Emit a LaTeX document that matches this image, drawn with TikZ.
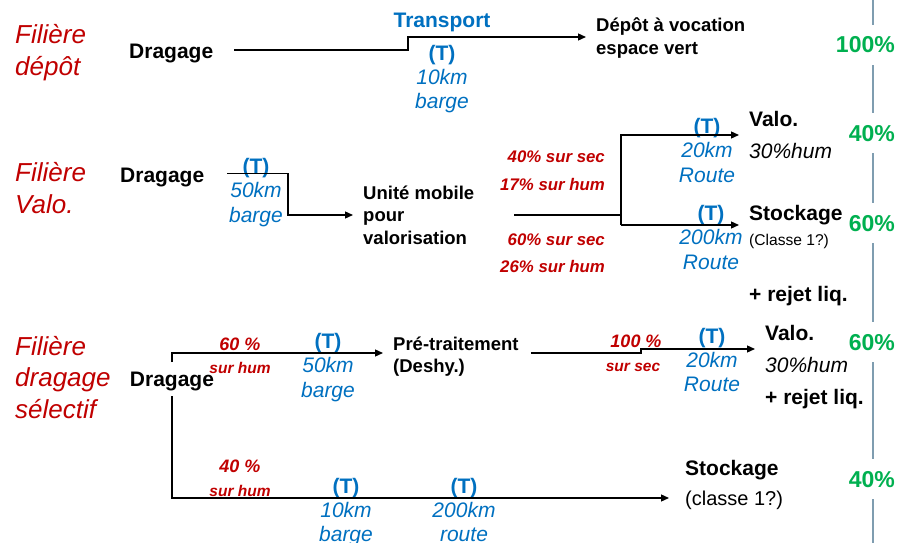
\documentclass[tikz,border=0pt]{standalone}
\usepackage{fontspec}
\setmainfont{Liberation Sans}
\usetikzlibrary{arrows.meta}
\definecolor{rouge}{HTML}{C00000}
\definecolor{bleu}{HTML}{0070C0}
\definecolor{vert}{HTML}{00B050}
\definecolor{gris}{HTML}{7F9DB0}
\newcommand{\taille}[2]{\fontsize{#1}{#2}\selectfont}
\tikzset{
    every node/.style={inner sep=2pt},
    filiere/.style={        % nom de la filiere
        text=rouge,
        font=\taille{26}{31.5}\itshape,
        align=left,
        anchor=base west
    },
    etape/.style={          % dragage, valo, stockage
        font=\taille{21}{24}\bfseries,
        anchor=base west
    },
    etapeb/.style={         % textes gras plus petits
        font=\taille{18.5}{22.5}\bfseries,
        align=left,
        anchor=base west
    },
    note/.style={           % textes non gras
        font=\taille{21}{24},
        anchor=base west
    },
    titre/.style={
        text=bleu,
        font=\taille{21}{24}\bfseries,
        anchor=base
    },
    troncon/.style={        % (T) + distance + mode
        text=bleu,
        font=\taille{21}{24.5}\itshape,
        align=center,
        anchor=base
    },
    taux/.style={           % pourcentages rouges
        text=rouge,
        font=\taille{16.8}{27.3}\bfseries\itshape,
        align=right,
        anchor=base east
    },
    part/.style={           % pourcentages verts
        text=vert,
        font=\taille{23}{24}\bfseries,
        fill=white,
        inner ysep=11.5pt,
        anchor=base east
    },
    separateur/.style={draw=gris, line width=1.5pt},
    fleche/.style={
        draw,
        line width=1.3pt,
        shorten >=8pt,
        -{Triangle[length=8pt, width=7pt]}
    },
    trait/.style={draw, line width=1.3pt}
}
\begin{document}
\begin{tikzpicture}[x=1pt, y=-1pt]
    \useasboundingbox (0,0) rectangle (900,543);
    \coordinate (haut) at (873,0);
    \coordinate (bas) at (873,543);
    \draw[separateur] (haut) -- (bas);

    % filiere depot (les noeuds a plusieurs lignes sont places sur la derniere ligne)
    \node[filiere] (fil1) at (13,75) {Filière\\dépôt};
    \node[etape] (drag1) at (127,58.3) {Dragage};
    \node[titre] (transp1) at (442,28) {Transport};
    \node[troncon] (t1) at (442,109) {{\upshape\bfseries (T)}\\10km\\barge};
    \node[etapeb] (depot) at (594,54.2) {Dépôt à vocation\\espace vert};
    \node[part] (p100) at (897,53) {100\%};
    \coordinate (c1a) at (408,50);
    \coordinate (c1b) at (408,37);
    \draw[fleche, shorten <=19pt] (drag1.east |- c1a) -- (c1a) -- (c1b) -- (depot.west |- c1b);

    % filiere valo
    \node[filiere] (fil2) at (13,213.2) {Filière\\Valo.};
    \node[etape] (drag2) at (118,182.3) {Dragage};
    \node[troncon] (t2) at (256,222) {{\upshape\bfseries (T)}\\50km\\barge};
    \node[etapeb] (unite) at (361,244) {Unité mobile\\pour\\valorisation};
    \node[taux] (taux2a) at (607,190) {40\% sur sec\\17\% sur hum};
    \node[taux] (taux2b) at (607,272.3) {60\% sur sec\\26\% sur hum};
    \node[troncon] (t2h) at (707,182) {{\upshape\bfseries (T)}\\20km\\Route};
    \node[troncon] (t2b) at (711,269) {{\upshape\bfseries (T)}\\200km\\Route};
    \node[etape] (valo2) at (747,126.7) {Valo.};
    \node[note, font=\taille{21}{24}\itshape] (hum2) at (747,158) {30\%hum};
    \node[etape] (stock2) at (747,220.7) {Stockage};
    \node[note, font=\taille{15.6}{18}] (classe2) at (747,245.7) {(Classe 1?)};
    \node[etape] (rejet2) at (747,301.7) {+ rejet liq.};
    \node[part] (p40a) at (897,141) {40\%};
    \node[part] (p60a) at (897,231) {60\%};
    \coordinate (c2a) at (288,173.5);
    \coordinate (c2b) at (288,215);
    \coordinate (c2c) at (621,215);
    \coordinate (c2d) at (621,135);
    \coordinate (c2e) at (621,225);
    \draw[fleche, shorten <=21pt] (drag2.east |- c2a) -- (c2a) -- (c2b) -- (unite.west |- c2b);
    \draw[trait, shorten <=38pt] (unite.east |- c2c) -- (c2c);
    \draw[fleche] (c2e) -- (c2d) -- (valo2.west |- c2d);
    \draw[fleche] (c2e) -- (stock2.west |- c2e);

    % filiere dragage selectif
    \node[filiere] (fil3) at (13,418) {Filière\\dragage\\sélectif};
    \node[etape, anchor=base] (drag3) at (172,386.7) {Dragage};
    \node[taux, anchor=base, font=\taille{18}{20}\bfseries\itshape] (taux3a) at (240,350) {60 \%};
    \node[taux, anchor=base, font=\taille{15.5}{18}\bfseries\itshape] (sur3a) at (240,373) {sur hum};
    \node[troncon] (t3a) at (328,397) {{\upshape\bfseries (T)}\\50km\\barge};
    \node[etapeb, font=\taille{18.5}{22}\bfseries] (pretrait) at (391,372) {Pré-traitement\\(Deshy.)};
    \node[taux, anchor=base, font=\taille{18}{20}\bfseries\itshape] (taux3b) at (636,347.7) {100 \%};
    \node[taux, anchor=base, font=\taille{15.5}{18}\bfseries\itshape] (sur3b) at (633,371.7) {sur sec};
    \node[troncon, font=\taille{21}{24.2}\itshape] (t3b) at (712,391.7) {{\upshape\bfseries (T)}\\20km\\Route};
    \node[etape] (valo3) at (763,340.7) {Valo.};
    \node[note, font=\taille{21}{24}\itshape] (hum3) at (763,372.7) {30\%hum};
    \node[etape] (rejet3) at (763,404) {+ rejet liq.};
    \node[part] (p60b) at (897,350) {60\%};
    \node[taux, anchor=base, font=\taille{18}{20}\bfseries\itshape] (taux3c) at (240,472.7) {40 \%};
    \node[taux, anchor=base, font=\taille{15.5}{18}\bfseries\itshape] (sur3c) at (240,496.7) {sur hum};
    \node[troncon, font=\taille{21}{24.2}\itshape] (t3c) at (346,541.7) {{\upshape\bfseries (T)}\\10km\\barge};
    \node[troncon, font=\taille{21}{24.2}\itshape] (t3d) at (464,541.7) {{\upshape\bfseries (T)}\\200km\\route};
    \node[etape] (stock3) at (683,475) {Stockage};
    \node[note, font=\taille{20}{24}] (classe3) at (683,505) {(classe 1?)};
    \node[part] (p40b) at (897,487) {40\%};
    \coordinate (fourche) at (172,353);
    \coordinate (coin3) at (172,498);
    \coordinate (c3a) at (641,353);
    \coordinate (c3b) at (641,349);
    \draw[fleche, shorten <=8pt] (drag3.north) -- (fourche) -- (pretrait.west |- fourche);
    \draw[fleche, shorten <=3pt, shorten >=14pt] (drag3.south) -- (coin3) -- (stock3.west |- coin3);
    \draw[fleche, shorten <=10pt] (pretrait.east |- c3a) -- (c3a) -- (c3b) -- (valo3.west |- c3b);
\end{tikzpicture}
\end{document}
